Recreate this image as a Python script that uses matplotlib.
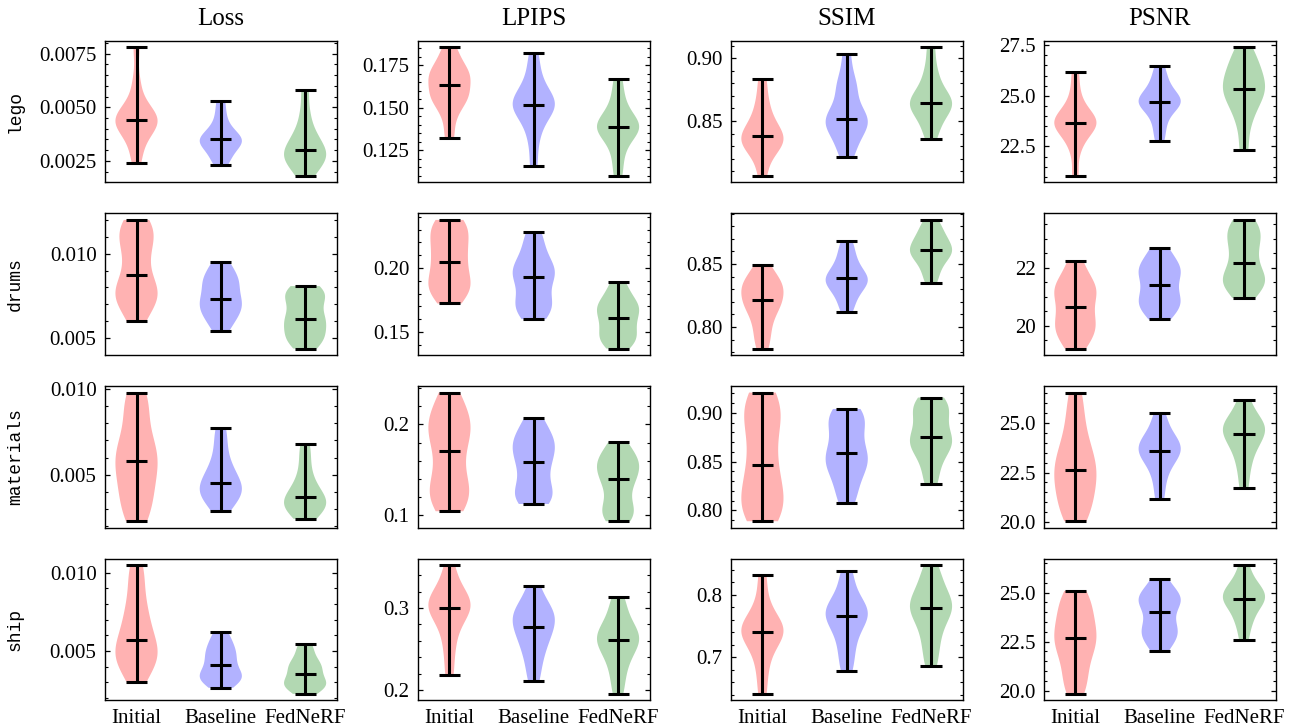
import numpy as np
import matplotlib
matplotlib.use("Agg")
import matplotlib.pyplot as plt
from matplotlib.ticker import AutoMinorLocator, MaxNLocator

scenes = ['lego', 'drums', 'materials', 'ship']
metrics = ['Loss', 'LPIPS', 'SSIM', 'PSNR']
methods = ['Initial', 'Baseline', 'FedNeRF']
colors = ['red', 'blue', 'green']

# per-view values, one list per method (Initial, Baseline, FedNeRF)
lego_loss = [
    [0.0024, 0.0031, 0.0037, 0.0040, 0.0042, 0.0043, 0.0044, 0.0045, 0.0046, 0.0048, 0.0053, 0.0062, 0.0078],
    [0.0023, 0.0026, 0.0029, 0.0031, 0.0033, 0.0034, 0.0035, 0.0035, 0.0037, 0.0039, 0.0042, 0.0047, 0.0053],
    [0.0018, 0.0021, 0.0024, 0.0026, 0.0027, 0.0028, 0.0030, 0.0032, 0.0034, 0.0037, 0.0041, 0.0048, 0.0058],
]
lego_lpips = [
    [0.1323, 0.1440, 0.1520, 0.1550, 0.1565, 0.1590, 0.1633, 0.1670, 0.1690, 0.1705, 0.1730, 0.1790, 0.1855],
    [0.1155, 0.1300, 0.1390, 0.1450, 0.1490, 0.1510, 0.1518, 0.1530, 0.1550, 0.1590, 0.1640, 0.1720, 0.1820],
    [0.1100, 0.1200, 0.1280, 0.1330, 0.1360, 0.1375, 0.1389, 0.1400, 0.1420, 0.1450, 0.1500, 0.1570, 0.1666],
]
lego_ssim = [
    [0.8063, 0.8200, 0.8270, 0.8310, 0.8330, 0.8350, 0.8380, 0.8410, 0.8450, 0.8500, 0.8580, 0.8680, 0.8830],
    [0.8211, 0.8300, 0.8380, 0.8440, 0.8480, 0.8500, 0.8513, 0.8540, 0.8600, 0.8720, 0.8770, 0.8850, 0.9030],
    [0.8357, 0.8450, 0.8520, 0.8570, 0.8610, 0.8630, 0.8645, 0.8670, 0.8700, 0.8760, 0.8830, 0.8930, 0.9087],
]
lego_psnr = [
    [21.05, 22.30, 22.90, 23.30, 23.50, 23.60, 23.66, 23.75, 23.90, 24.10, 24.50, 25.20, 26.19],
    [22.78, 23.40, 23.90, 24.30, 24.55, 24.65, 24.68, 24.80, 24.95, 25.20, 25.50, 25.90, 26.45],
    [22.34, 23.50, 24.20, 24.60, 24.95, 25.20, 25.36, 25.60, 25.90, 26.20, 26.50, 26.90, 27.40],
]

drums_loss = [
    [0.00601, 0.00680, 0.00730, 0.00755, 0.00775, 0.00810, 0.00873, 0.00950, 0.01020, 0.01080, 0.01120, 0.01160, 0.01199],
    [0.00542, 0.00600, 0.00635, 0.00660, 0.00690, 0.00715, 0.00734, 0.00770, 0.00810, 0.00835, 0.00860, 0.00900, 0.00952],
    [0.00439, 0.00480, 0.00505, 0.00530, 0.00570, 0.00600, 0.00616, 0.00650, 0.00700, 0.00735, 0.00760, 0.00780, 0.00808],
]
drums_lpips = [
    [0.1722, 0.1800, 0.1840, 0.1870, 0.1920, 0.1990, 0.2047, 0.2110, 0.2170, 0.2230, 0.2290, 0.2340, 0.2377],
    [0.1600, 0.1660, 0.1700, 0.1730, 0.1790, 0.1880, 0.1932, 0.1960, 0.1990, 0.2030, 0.2100, 0.2190, 0.2285],
    [0.1369, 0.1420, 0.1450, 0.1480, 0.1530, 0.1580, 0.1612, 0.1660, 0.1690, 0.1710, 0.1750, 0.1810, 0.1887],
]
drums_ssim = [
    [0.7830, 0.7930, 0.8020, 0.8100, 0.8160, 0.8190, 0.8213, 0.8270, 0.8310, 0.8330, 0.8360, 0.8410, 0.8492],
    [0.8117, 0.8200, 0.8260, 0.8310, 0.8340, 0.8360, 0.8386, 0.8400, 0.8430, 0.8480, 0.8530, 0.8600, 0.8680],
    [0.8351, 0.8430, 0.8490, 0.8540, 0.8570, 0.8590, 0.8610, 0.8640, 0.8670, 0.8700, 0.8740, 0.8790, 0.8850],
]
drums_psnr = [
    [19.22, 19.55, 19.80, 19.95, 20.15, 20.40, 20.66, 20.95, 21.15, 21.30, 21.45, 21.75, 22.24],
    [20.22, 20.50, 20.70, 20.80, 20.95, 21.20, 21.41, 21.65, 21.85, 21.95, 22.10, 22.35, 22.68],
    [20.96, 21.25, 21.45, 21.55, 21.65, 21.85, 22.15, 22.45, 22.75, 23.00, 23.20, 23.40, 23.64],
]

materials_loss = [
    [0.00228, 0.00290, 0.00360, 0.00420, 0.00480, 0.00540, 0.00580, 0.00620, 0.00670, 0.00730, 0.00830, 0.00920, 0.00980],
    [0.00290, 0.00330, 0.00370, 0.00390, 0.00405, 0.00425, 0.00452, 0.00480, 0.00510, 0.00550, 0.00610, 0.00690, 0.00775],
    [0.00242, 0.00270, 0.00300, 0.00320, 0.00330, 0.00345, 0.00370, 0.00390, 0.00420, 0.00460, 0.00520, 0.00600, 0.00680],
]
materials_lpips = [
    [0.1044, 0.1150, 0.1230, 0.1290, 0.1400, 0.1570, 0.1707, 0.1850, 0.1930, 0.2000, 0.2080, 0.2200, 0.2352],
    [0.1124, 0.1180, 0.1230, 0.1270, 0.1400, 0.1520, 0.1586, 0.1680, 0.1750, 0.1800, 0.1850, 0.1950, 0.2073],
    [0.0934, 0.1000, 0.1050, 0.1100, 0.1250, 0.1350, 0.1403, 0.1480, 0.1540, 0.1580, 0.1620, 0.1700, 0.1805],
]
materials_ssim = [
    [0.7889, 0.7960, 0.8040, 0.8120, 0.8220, 0.8350, 0.8466, 0.8630, 0.8800, 0.8920, 0.9020, 0.9120, 0.9208],
    [0.8075, 0.8200, 0.8330, 0.8420, 0.8480, 0.8530, 0.8586, 0.8650, 0.8760, 0.8870, 0.8930, 0.8980, 0.9040],
    [0.8269, 0.8420, 0.8550, 0.8630, 0.8680, 0.8710, 0.8755, 0.8820, 0.8920, 0.9000, 0.9050, 0.9100, 0.9157],
]
materials_psnr = [
    [20.05, 20.50, 21.00, 21.50, 21.90, 22.30, 22.64, 23.00, 23.40, 23.90, 24.60, 25.50, 26.52],
    [21.18, 22.00, 22.60, 23.00, 23.30, 23.45, 23.58, 23.80, 24.00, 24.15, 24.40, 24.90, 25.48],
    [21.72, 22.60, 23.20, 23.70, 24.00, 24.25, 24.45, 24.70, 24.85, 24.95, 25.15, 25.60, 26.17],
]

ship_loss = [
    [0.00306, 0.00380, 0.00430, 0.00460, 0.00490, 0.00520, 0.00568, 0.00620, 0.00680, 0.00750, 0.00830, 0.00950, 0.01047],
    [0.00266, 0.00300, 0.00320, 0.00335, 0.00350, 0.00370, 0.00409, 0.00440, 0.00470, 0.00500, 0.00530, 0.00570, 0.00623],
    [0.00227, 0.00255, 0.00275, 0.00290, 0.00300, 0.00320, 0.00351, 0.00380, 0.00400, 0.00420, 0.00450, 0.00500, 0.00547],
]
ship_lpips = [
    [0.2183, 0.2450, 0.2650, 0.2800, 0.2900, 0.2960, 0.2996, 0.3050, 0.3090, 0.3130, 0.3200, 0.3330, 0.3520],
    [0.2110, 0.2300, 0.2450, 0.2550, 0.2650, 0.2720, 0.2772, 0.2850, 0.2900, 0.2950, 0.3000, 0.3100, 0.3268],
    [0.1955, 0.2150, 0.2300, 0.2420, 0.2500, 0.2560, 0.2606, 0.2660, 0.2700, 0.2750, 0.2850, 0.2980, 0.3134],
]
ship_ssim = [
    [0.6410, 0.6750, 0.7000, 0.7180, 0.7300, 0.7370, 0.7400, 0.7450, 0.7500, 0.7580, 0.7700, 0.7950, 0.8311],
    [0.6771, 0.7000, 0.7200, 0.7380, 0.7500, 0.7600, 0.7663, 0.7720, 0.7770, 0.7830, 0.7950, 0.8150, 0.8385],
    [0.6850, 0.7100, 0.7300, 0.7480, 0.7620, 0.7720, 0.7780, 0.7830, 0.7900, 0.8000, 0.8120, 0.8280, 0.8470],
]
ship_psnr = [
    [19.83, 20.40, 21.00, 21.60, 22.10, 22.40, 22.68, 23.00, 23.40, 23.80, 24.20, 24.70, 25.09],
    [22.04, 22.50, 22.80, 23.00, 23.20, 23.60, 23.99, 24.40, 24.60, 24.70, 24.85, 25.20, 25.72],
    [22.57, 23.30, 23.70, 24.10, 24.40, 24.55, 24.66, 24.85, 25.05, 25.20, 25.40, 25.80, 26.40],
]

grid = [
    [lego_loss, lego_lpips, lego_ssim, lego_psnr],
    [drums_loss, drums_lpips, drums_ssim, drums_psnr],
    [materials_loss, materials_lpips, materials_ssim, materials_psnr],
    [ship_loss, ship_lpips, ship_ssim, ship_psnr],
]

plt.rcParams['font.family'] = 'serif'
plt.rcParams['font.serif'] = ['Liberation Serif', 'DejaVu Serif']
plt.rcParams['font.size'] = 15
plt.rcParams['axes.linewidth'] = 1.0
plt.rcParams['ytick.direction'] = 'in'
plt.rcParams['ytick.right'] = True
plt.rcParams['ytick.minor.visible'] = True
plt.rcParams['ytick.major.size'] = 3.5
plt.rcParams['ytick.minor.size'] = 2.0
plt.rcParams['ytick.major.width'] = 0.9
plt.rcParams['ytick.minor.width'] = 0.8

fig, axes = plt.subplots(4, 4, figsize=(12.95, 7.28), dpi=100)
fig.subplots_adjust(left=0.081, right=0.985, top=0.944, bottom=0.038,
                    wspace=0.35, hspace=0.22)

pos = [1, 2, 3]
for i, scene in enumerate(scenes):
    for j, metric in enumerate(metrics):
        ax = axes[i, j]
        parts = ax.violinplot(grid[i][j], positions=pos, showmedians=True,
                              bw_method=0.45)
        for body, c in zip(parts['bodies'], colors):
            body.set_facecolor(c)
            body.set_edgecolor('none')
            body.set_alpha(0.3)
        for key in ['cbars', 'cmins', 'cmaxes', 'cmedians']:
            parts[key].set_color('black')
            parts[key].set_linewidth(2.2)

        ax.yaxis.set_major_locator(MaxNLocator(nbins=3, steps=[1, 2, 2.5, 5, 10]))
        ax.yaxis.set_minor_locator(AutoMinorLocator())
        ax.tick_params(axis='y', which='both', pad=6)
        ax.set_xticks(pos)
        ax.tick_params(axis='x', length=0, pad=6)
        if i == 3:
            ax.set_xticklabels(methods)
        else:
            ax.set_xticklabels([])
        if i == 0:
            ax.set_title(metric, fontsize=18, pad=11)
        if j == 0:
            ax.set_ylabel(scene, family='Liberation Mono', fontsize=13)
            ax.yaxis.set_label_coords(-0.35, 0.5)

fig.savefig('out.png', dpi=100)
